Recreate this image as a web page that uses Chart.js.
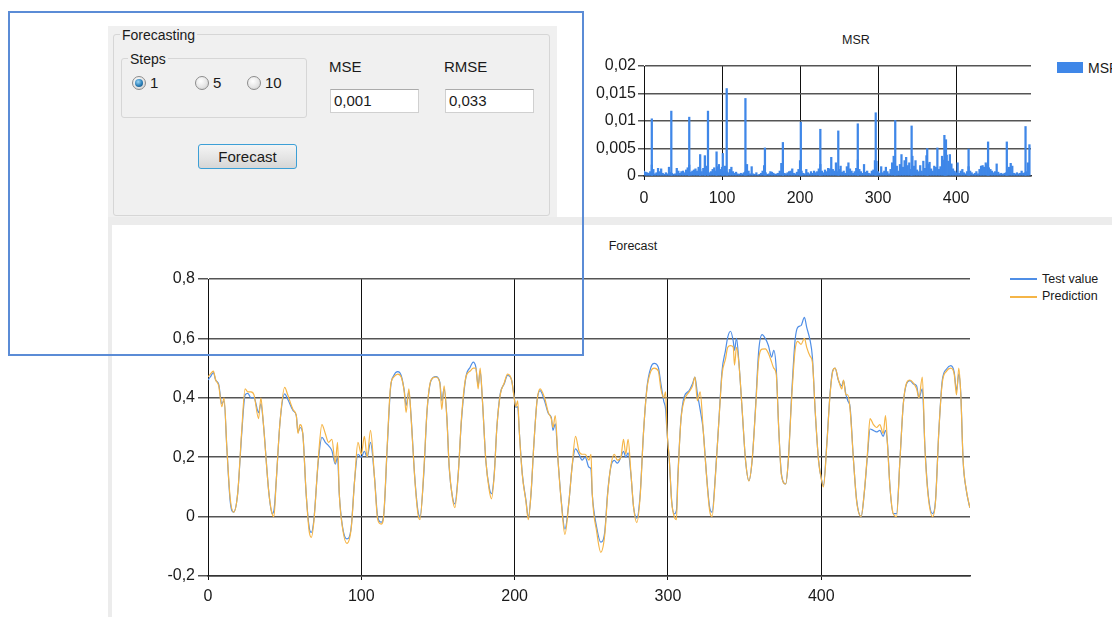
<!DOCTYPE html>
<html>
<head>
<meta charset="utf-8">
<script src="https://cdn.jsdelivr.net/npm/chart.js@4.4.1/dist/chart.umd.min.js"></script>
<style>
body{margin:0;width:1112px;height:617px;overflow:hidden;background:#fff;position:relative;font-family:"Liberation Sans",Arial,sans-serif;color:#1a1a1a}
.a{position:absolute}
.gray{background:#f0f0f0}
.grp{border:1px solid #d6d6d6;border-radius:3px}
.lbl{height:18px;line-height:18px;white-space:nowrap}
.radio{width:12px;height:12px;border-radius:50%;border:1px solid #8c8c8c;background:radial-gradient(circle at 40% 35%,#fff 0%,#e6e6e6 55%,#c8c8c8 100%)}
.dot{position:absolute;left:2px;top:2px;width:8px;height:8px;border-radius:50%;background:radial-gradient(circle at 40% 35%,#9bd6f7 0%,#2a7fb8 55%,#0f3f66 100%)}
.box{background:#fff;border:1px solid #d0d0d0;border-top-color:#ababab;font-size:15px;line-height:22px;padding-left:3px;box-sizing:border-box}
</style>
</head>
<body>
<!-- form background -->
<div class="a gray" style="left:108px;top:26px;width:449px;height:191px"></div>
<div class="a" style="left:108px;top:217px;width:1004px;height:8px;background:#ececec"></div>
<div class="a" style="left:108px;top:225px;width:4px;height:392px;background:#ececec"></div>

<!-- Forecasting group -->
<div class="a grp" style="left:113px;top:34px;width:435px;height:180px"></div>
<div class="a lbl gray" style="left:120px;top:26px;font-size:14px;padding:0 2px">Forecasting</div>
<div class="a grp" style="left:121px;top:58px;width:184px;height:58px"></div>
<div class="a lbl gray" style="left:128px;top:50px;font-size:14px;padding:0 2px">Steps</div>
<div class="a radio" style="left:132px;top:76px"><div class="dot"></div></div>
<div class="a lbl" style="left:150px;top:74px;font-size:15px">1</div>
<div class="a radio" style="left:195px;top:76px"></div>
<div class="a lbl" style="left:213px;top:74px;font-size:15px">5</div>
<div class="a radio" style="left:247px;top:76px"></div>
<div class="a lbl" style="left:265px;top:74px;font-size:15px">10</div>
<div class="a lbl" style="left:329px;top:58px;font-size:15px">MSE</div>
<div class="a lbl" style="left:444px;top:58px;font-size:15px">RMSE</div>
<div class="a box" style="left:330px;top:89px;width:89px;height:24px">0,001</div>
<div class="a box" style="left:445px;top:89px;width:89px;height:24px">0,033</div>
<div class="a" style="left:198px;top:144px;width:99px;height:25px;box-sizing:border-box;border:1px solid #3c9fd6;border-radius:3px;background:linear-gradient(#f4f4f4,#e6e6e6 50%,#d6d6d6);font-size:15px;line-height:23px;text-align:center">Forecast</div>

<!-- MSR chart -->
<div class="a lbl" style="left:826px;top:31px;width:60px;text-align:center;font-size:12.5px">MSR</div>
<canvas id="msrChart" class="a" width="490" height="160" style="left:556px;top:50px"></canvas>
<div class="a" style="left:1057px;top:62px;width:26px;height:11px;background:#3f87e8"></div>
<div class="a lbl" style="left:1088px;top:59px;font-size:14px">MSR</div>

<!-- Forecast chart -->
<div class="a lbl" style="left:583px;top:237px;width:100px;text-align:center;font-size:12.5px">Forecast</div>
<canvas id="forecastChart" class="a" width="890" height="352" style="left:110px;top:260px"></canvas>
<div class="a" style="left:1010px;top:278px;width:27px;height:2px;background:#4f8ee6"></div>
<div class="a lbl" style="left:1042px;top:270px;font-size:12.5px">Test value</div>
<div class="a" style="left:1010px;top:296px;width:27px;height:2px;background:#f5b547"></div>
<div class="a lbl" style="left:1042px;top:287px;font-size:12.5px">Prediction</div>

<!-- selection rectangle -->
<div class="a" style="left:8px;top:11px;width:572px;height:341px;border:2px solid #5b8cd6"></div>

<script>
// forecast: x position, test value, prediction
const forecastX = [
  0, 1.5, 3.5, 5, 7, 9, 10.5, 12.3, 14.5, 16.7,
  19.4, 22, 24.2, 26, 28, 30, 33, 34.5, 36, 39.7,
  41.8, 43, 44.5, 47, 50, 52, 55.5, 57.6, 58.7, 60,
  61.8, 64, 66, 67.4, 69, 72, 74.3, 76.5, 78.6, 80.8,
  83, 84.5, 85.6, 87.8, 90.6, 93.4, 95.6, 97.8, 100, 102,
  103.8, 106, 108.6, 110.7, 113, 114.7, 116.9, 119.1, 121.2, 123.8,
  126, 128, 129.2, 131, 132.5, 134.7, 136.9, 138.3, 140.7, 142.9,
  145.5, 148.6, 151.2, 152.5, 154, 155.8, 157.3, 159.5, 161, 163.2,
  165.3, 168.2, 171, 173, 174.7, 176.2, 177.5, 179, 181.2, 183.4,
  184.9, 186.7, 188.4, 190.6, 193.2, 195.4, 198, 199.7, 200.8, 202,
  203, 205, 207.4, 208.9, 210.7, 212.5, 214.6, 216.6, 219.5, 222,
  223.9, 225, 226.5, 228.3, 230.4, 232.8, 235.4, 237.5, 239.7, 242,
  244, 246, 248.5, 249.8, 250.6, 253.5, 256.2, 258.8, 260.6, 262.7,
  265, 267, 269.3, 271, 272.5, 274, 275.8, 277.6, 279.7, 281.9,
  284, 286.3, 288.9, 291, 293.7, 295.4, 297.2, 298.5, 299.3, 300.9,
  302.4, 304.1, 305.5, 306.5, 308.4, 310.5, 313.8, 316, 317.6, 319.2,
  321, 323, 325.1, 327.2, 328.8, 331, 333.2, 335.3, 337.5, 339,
  340.8, 342.6, 343.4, 344.7, 346.2, 348.4, 350.6, 352.8, 354.9, 357,
  359.2, 361.4, 363.5, 365.5, 367.6, 369, 370.6, 372.3, 374, 376.8,
  378.5, 380.7, 382.9, 384.6, 386.8, 389, 390.5, 392.7, 394.2, 396,
  398.2, 400.3, 401.4, 403.6, 405.7, 407.5, 409, 411.2, 413.4, 414.5,
  416, 417.3, 418.8, 421, 423.1, 426, 428, 430.2, 431.8, 434,
  436, 438.2, 440.4, 441.9, 443.2, 444.8, 446.9, 449.1, 451.3, 453.5,
  455.6, 457.8, 460, 462.2, 463.7, 465.9, 467.6, 469.7, 472.6, 474.5,
  476.7, 478.9, 481.7, 484.5, 486.7, 488.2, 489.7, 491, 492.5, 494.6,
  496.9
];
const testValue = [
  0.46, 0.47, 0.485, 0.46, 0.445, 0.38, 0.39, 0.23, 0.05, 0.015,
  0.08, 0.28, 0.41, 0.415, 0.40, 0.40, 0.35, 0.38, 0.32, 0.08,
  0.01, 0.02, 0.12, 0.32, 0.413, 0.395, 0.357, 0.34, 0.284, 0.30,
  0.28, 0.077, -0.036, -0.053, -0.013, 0.19, 0.267, 0.25, 0.239, 0.222,
  0.177, 0.2, 0.077, -0.036, -0.075, -0.036, 0.121, 0.21, 0.2, 0.22,
  0.2, 0.25, 0.132, -0.002, -0.019, 0.01, 0.233, 0.435, 0.475, 0.488,
  0.475, 0.424, 0.374, 0.42, 0.334, 0.144, 0.02, 0.0, 0.14, 0.357,
  0.458, 0.471, 0.453, 0.39, 0.43, 0.334, 0.166, 0.065, 0.043, 0.144,
  0.323, 0.469, 0.503, 0.52, 0.503, 0.441, 0.49, 0.39, 0.189, 0.099,
  0.077, 0.144, 0.3, 0.413, 0.447, 0.475, 0.46, 0.402, 0.368, 0.37,
  0.29, 0.144, 0.054, -0.002, 0.077, 0.24, 0.39, 0.424, 0.39, 0.347,
  0.334, 0.29, 0.312, 0.189, 0.054, -0.042, 0.05, 0.17, 0.228, 0.21,
  0.19, 0.2, 0.166, 0.16, 0.077, -0.036, -0.086, -0.05, 0.077, 0.166,
  0.189, 0.18, 0.2, 0.22, 0.2, 0.215, 0.144, 0.031, -0.005, 0.077,
  0.278, 0.435, 0.503, 0.516, 0.503, 0.447, 0.39, 0.36, 0.29, 0.19,
  0.054, 0.009, 0.02, 0.14, 0.323, 0.402, 0.424, 0.447, 0.47, 0.413,
  0.36, 0.29, 0.144, 0.031, 0.015, 0.144, 0.323, 0.492, 0.559, 0.604,
  0.624, 0.59, 0.56, 0.60, 0.525, 0.357, 0.189, 0.121, 0.189, 0.357,
  0.559, 0.613, 0.6, 0.576, 0.537, 0.56, 0.5, 0.29, 0.144, 0.11,
  0.19, 0.413, 0.593, 0.637, 0.643, 0.671, 0.637, 0.593, 0.537, 0.357,
  0.19, 0.121, 0.105, 0.245, 0.413, 0.492, 0.5, 0.458, 0.44, 0.458,
  0.413, 0.39, 0.368, 0.19, 0.054, 0.0, 0.077, 0.21, 0.295, 0.29,
  0.285, 0.29, 0.27, 0.29, 0.245, 0.099, 0.01, 0.01, 0.19, 0.379,
  0.447, 0.458, 0.447, 0.44, 0.40, 0.43, 0.233, 0.077, 0.01, 0.054,
  0.29, 0.458, 0.497, 0.508, 0.486, 0.424, 0.48, 0.413, 0.19, 0.088,
  0.03
];
const prediction = [
  0.47, 0.48, 0.49, 0.46, 0.44, 0.37, 0.40, 0.23, 0.06, 0.015,
  0.08, 0.29, 0.43, 0.42, 0.42, 0.41, 0.33, 0.40, 0.32, 0.08,
  0.01, 0.0, 0.12, 0.32, 0.435, 0.41, 0.36, 0.34, 0.28, 0.31,
  0.28, 0.08, -0.05, -0.07, -0.02, 0.2, 0.31, 0.28, 0.25, 0.26,
  0.18, 0.25, 0.08, -0.04, -0.09, -0.04, 0.12, 0.25, 0.21, 0.27,
  0.2, 0.29, 0.13, -0.01, -0.025, 0.01, 0.24, 0.44, 0.47, 0.48,
  0.47, 0.42, 0.35, 0.43, 0.33, 0.14, 0.01, -0.01, 0.15, 0.36,
  0.46, 0.47, 0.45, 0.36, 0.44, 0.33, 0.17, 0.06, 0.03, 0.14,
  0.33, 0.47, 0.49, 0.5, 0.5, 0.43, 0.5, 0.39, 0.19, 0.09,
  0.06, 0.14, 0.3, 0.41, 0.45, 0.48, 0.46, 0.40, 0.37, 0.39,
  0.29, 0.14, 0.05, -0.01, 0.08, 0.24, 0.39, 0.43, 0.40, 0.35,
  0.33, 0.30, 0.34, 0.19, 0.05, -0.06, 0.05, 0.17, 0.27, 0.22,
  0.21, 0.21, 0.19, 0.21, 0.08, -0.05, -0.12, -0.06, 0.07, 0.17,
  0.21, 0.19, 0.2, 0.26, 0.21, 0.26, 0.15, 0.03, -0.02, 0.07,
  0.28, 0.43, 0.49, 0.50, 0.49, 0.43, 0.40, 0.42, 0.3, 0.19,
  0.05, 0.0, -0.01, 0.13, 0.32, 0.39, 0.42, 0.44, 0.47, 0.39,
  0.42, 0.29, 0.14, 0.02, 0.0, 0.14, 0.32, 0.48, 0.53, 0.57,
  0.576, 0.57, 0.51, 0.57, 0.52, 0.36, 0.19, 0.12, 0.19, 0.35,
  0.53, 0.564, 0.565, 0.55, 0.52, 0.50, 0.48, 0.29, 0.14, 0.11,
  0.19, 0.40, 0.56, 0.59, 0.58, 0.60, 0.57, 0.54, 0.52, 0.36,
  0.19, 0.12, 0.10, 0.24, 0.41, 0.49, 0.50, 0.46, 0.43, 0.46,
  0.41, 0.41, 0.36, 0.19, 0.05, 0.0, 0.08, 0.22, 0.33, 0.31,
  0.30, 0.31, 0.28, 0.34, 0.24, 0.10, 0.01, 0.0, 0.19, 0.38,
  0.45, 0.46, 0.45, 0.43, 0.40, 0.47, 0.23, 0.07, 0.0, 0.05,
  0.29, 0.45, 0.49, 0.50, 0.48, 0.41, 0.50, 0.41, 0.19, 0.09,
  0.03
];

// MSR: small errors at every second index (0, 2, 4, ... 494)
const msrBase = [
  0.0009, 0.0007, 0.0006, 0.0005, 0.0008, 0.002, 0.0012, 0.0004, 0.0006, 0.0014,
  0.0008, 0.0013, 0.0005, 0.0003, 0.0006, 0.0004, 0.0016, 0.0007, 0.0005, 0.0003,
  0.0004, 0.0014, 0.0009, 0.0005, 0.0008, 0.0009, 0.0006, 0.0011, 0.0015, 0.002,
  0.0007, 0.0009, 0.0011, 0.0013, 0.0009, 0.0016, 0.0012, 0.0008, 0.0014, 0.0010,
  0.0018, 0.0009, 0.0006, 0.0008, 0.0012, 0.0015, 0.0009, 0.0017, 0.0021, 0.0012,
  0.0016, 0.0009, 0.0018, 0.0008, 0.0006, 0.0012, 0.0016, 0.0008, 0.0005, 0.0007,
  0.0004, 0.0003, 0.0005, 0.0004, 0.0006, 0.0008, 0.0021, 0.0009, 0.0004, 0.0017,
  0.0004, 0.0003, 0.0006, 0.0002, 0.0003, 0.0005, 0.0009, 0.0019, 0.0006, 0.0003,
  0.0004, 0.0008, 0.0007, 0.0005, 0.0003, 0.0004, 0.0005, 0.0009, 0.0023, 0.0007,
  0.0005, 0.0004, 0.0006, 0.0008, 0.0009, 0.0013, 0.0005, 0.0004, 0.0007, 0.0012,
  0.0028, 0.0009, 0.0005, 0.0004, 0.0012, 0.0006, 0.0004, 0.0008, 0.0005, 0.0009,
  0.0006, 0.0008, 0.0013, 0.0021, 0.0009, 0.0006, 0.0011, 0.0008, 0.0014, 0.0013,
  0.0034, 0.0012, 0.0009, 0.0024, 0.0008, 0.0012, 0.0018, 0.0007, 0.0009, 0.0005,
  0.0017, 0.0024, 0.0013, 0.0009, 0.0005, 0.0008, 0.0014, 0.0029, 0.0012, 0.0008,
  0.0005, 0.0021, 0.0007, 0.0009, 0.0005, 0.0004, 0.0009, 0.0011, 0.0028, 0.0027,
  0.0008, 0.0005, 0.0017, 0.0006, 0.0009, 0.0016, 0.0008, 0.0004, 0.0012, 0.0024,
  0.0036, 0.0011, 0.0018, 0.0009, 0.0021, 0.0039, 0.0016, 0.0028, 0.0034, 0.0019,
  0.0024, 0.0012, 0.0036, 0.0018, 0.0028, 0.0011, 0.0008, 0.0019, 0.0009, 0.0027,
  0.0014, 0.0037, 0.0022, 0.0025, 0.0013, 0.0009, 0.0018, 0.0016, 0.0051, 0.0012,
  0.0017, 0.0036, 0.0029, 0.0041, 0.0038, 0.0027, 0.0039, 0.0022, 0.0013, 0.0009,
  0.0006, 0.0024, 0.0005, 0.0009, 0.0012, 0.0006, 0.0004, 0.0008, 0.0017, 0.0009,
  0.0006, 0.0003, 0.0005, 0.0008, 0.0004, 0.0012, 0.0018, 0.0019, 0.0016, 0.0024,
  0.0021, 0.0015, 0.0012, 0.0009, 0.0006, 0.0008, 0.0022, 0.0007, 0.0004, 0.0005,
  0.0003, 0.0005, 0.0006, 0.0012, 0.0016, 0.0023, 0.0018, 0.0005, 0.0004, 0.0006,
  0.0004, 0.0005, 0.0009, 0.0005, 0.0006, 0.0008, 0.0024, 0.0057
];
// MSR: the tall spikes
const msrSpikeX = [10, 35, 58, 72, 78, 82, 93, 101, 106, 130, 155, 178, 201, 226, 249, 274, 297, 322, 343, 363, 385, 387, 416, 441, 465, 489];
const msrSpikeY = [0.0104, 0.0118, 0.0107, 0.0039, 0.0037, 0.0118, 0.0044, 0.0041, 0.0159, 0.0141, 0.0051, 0.0061, 0.0098, 0.0085, 0.0082, 0.0095, 0.0115, 0.0101, 0.0091, 0.005, 0.0074, 0.0066, 0.0049, 0.0062, 0.0062, 0.009];

const xTicks = [0, 100, 200, 300, 400];

Chart.defaults.font.family = '"Liberation Sans", Arial, sans-serif';
Chart.defaults.color = '#1a1a1a';

const comma = v => String(v).replace('.', ',');
const setXTicks = s => { s.ticks = xTicks.map(v => ({value: v})); };

const msrData = msrBase.map((v, i) => ({x: i * 2, y: v}))
  .concat(msrSpikeX.map((x, i) => ({x: x, y: msrSpikeY[i]})))
  .sort((a, b) => a.x - b.x);

new Chart(document.getElementById('msrChart'), {
  type: 'bar',
  data: {
    datasets: [{
      label: 'MSR',
      data: msrData,
      backgroundColor: '#3f87e8',
      barThickness: 1.6
    }]
  },
  options: {
    responsive: false,
    animation: false,
    layout: {padding: {top: 16, right: 15}},
    plugins: {legend: {display: false}, tooltip: {enabled: false}},
    scales: {
      x: {
        type: 'linear', min: 0, max: 496, offset: false,
        afterBuildTicks: setXTicks,
        afterFit: s => { s.height = 34; },
        ticks: {padding: 9, font: {size: 16}},
        grid: {offset: false, color: '#111', lineWidth: 1, tickLength: 4, tickColor: '#111'},
        border: {color: '#333', width: 1.5}
      },
      y: {
        min: 0, max: 0.02,
        afterFit: s => { s.width = 88; },
        ticks: {stepSize: 0.005, padding: 2, font: {size: 16},
          callback: v => comma(+v.toFixed(3))},
        grid: {color: '#555', lineWidth: 1.5, tickLength: 6, tickColor: '#555'},
        border: {color: '#111', width: 1}
      }
    }
  }
});

new Chart(document.getElementById('forecastChart'), {
  type: 'line',
  data: {
    datasets: [
      {
        label: 'Test value',
        data: forecastX.map((x, i) => ({x: x, y: testValue[i]})),
        borderColor: '#4f8ee6', borderWidth: 1.2, pointRadius: 0,
        cubicInterpolationMode: 'monotone', order: 1
      },
      {
        label: 'Prediction',
        data: forecastX.map((x, i) => ({x: x, y: prediction[i]})),
        borderColor: '#f5b547', borderWidth: 1.2, pointRadius: 0,
        cubicInterpolationMode: 'monotone', order: 0
      }
    ]
  },
  options: {
    responsive: false,
    animation: false,
    layout: {padding: {top: 19, right: 30}},
    plugins: {legend: {display: false}, tooltip: {enabled: false}},
    scales: {
      x: {
        type: 'linear', min: 0, max: 497,
        afterBuildTicks: setXTicks,
        afterFit: s => { s.height = 36; },
        ticks: {padding: 7, font: {size: 16}},
        grid: {color: '#111', lineWidth: 1, tickLength: 4, tickColor: '#111'},
        border: {color: '#333', width: 1.5}
      },
      y: {
        min: -0.2, max: 0.8,
        afterFit: s => { s.width = 98; },
        ticks: {stepSize: 0.2, padding: 3, font: {size: 16},
          callback: v => comma(Math.round(v * 10) / 10)},
        grid: {color: '#555', lineWidth: 1.5, tickLength: 10, tickColor: '#555'},
        border: {color: '#111', width: 1}
      }
    }
  }
});
</script>
</body>
</html>
